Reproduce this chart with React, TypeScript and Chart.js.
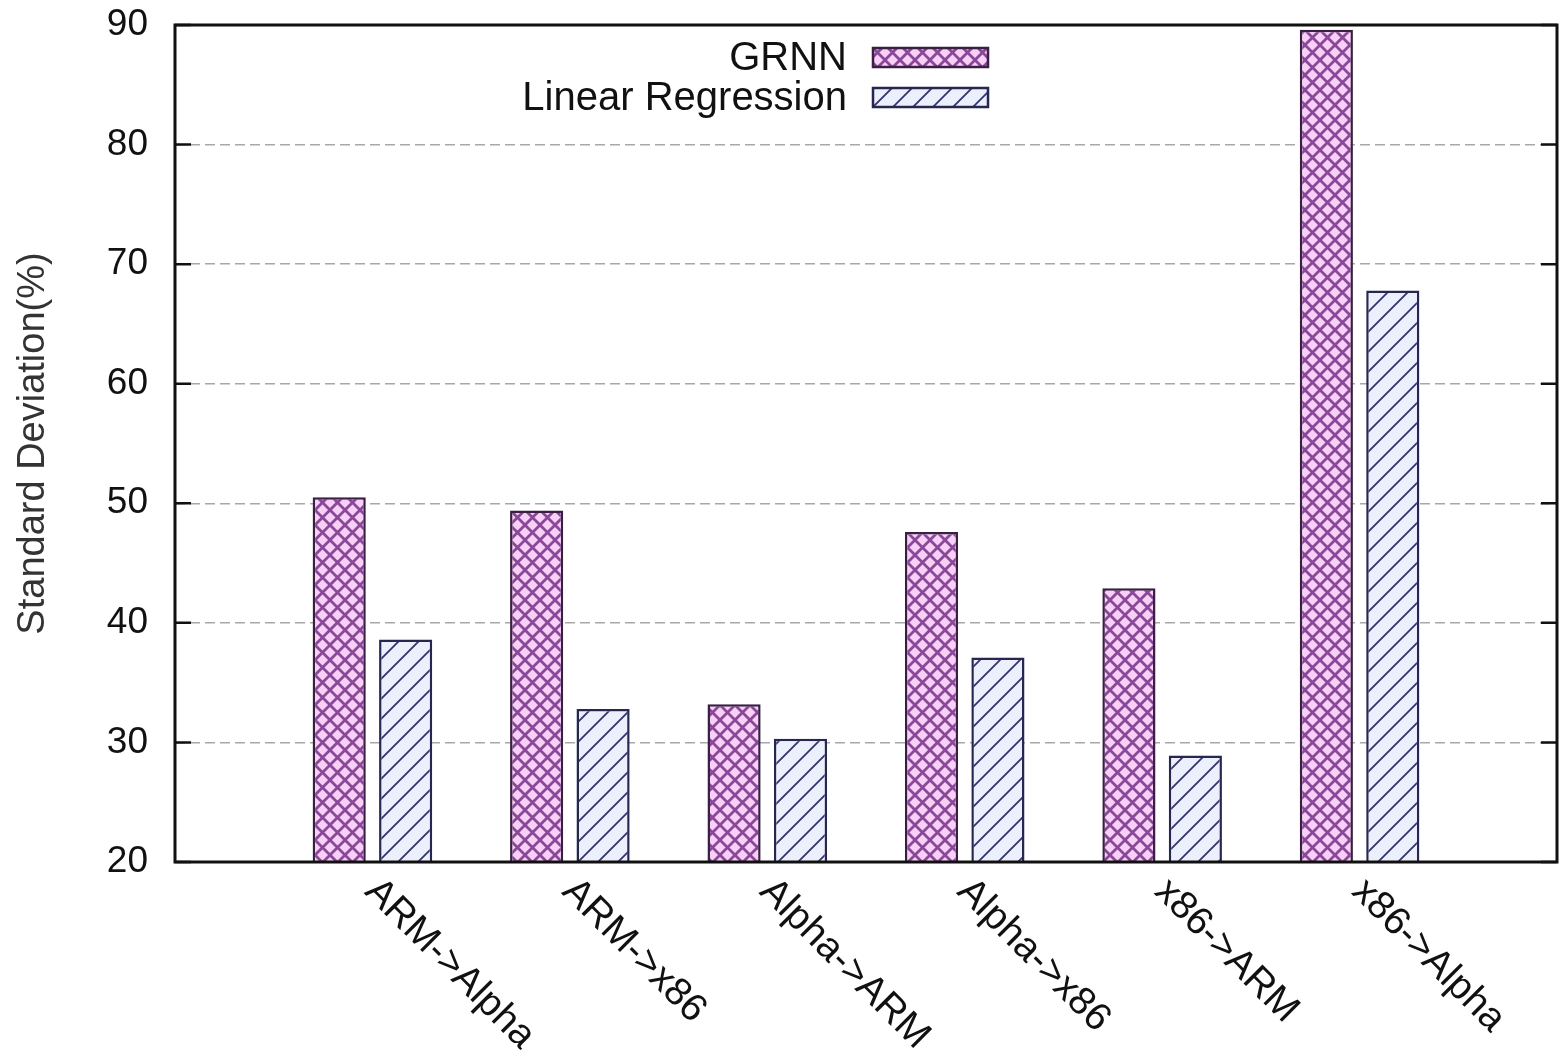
import { useEffect, useRef } from 'react';
import { Chart, registerables } from 'chart.js';

Chart.register(...registerables);

// Prediction error spread per cross-ISA mapping
const categories = ['ARM->Alpha', 'ARM->x86', 'Alpha->ARM', 'Alpha->x86', 'x86->ARM', 'x86->Alpha'];
const grnnValues = [50.5, 49.4, 33.2, 47.6, 42.9, 89.6];
const linearRegressionValues = [38.6, 32.8, 30.3, 37.1, 28.9, 67.8];
const seriesNames = ['GRNN', 'Linear Regression'];
const yTickValues = [20, 30, 40, 50, 60, 70, 80, 90];
const yAxisTitle = 'Standard Deviation(%)';

const FONT = '"Liberation Sans", Arial, Helvetica, sans-serif';
const WIDTH = 1562;
const HEIGHT = 1057;

function crossHatch(bg: string, line: string, size: number, lw: number): CanvasPattern {
  const c = document.createElement('canvas');
  c.width = size;
  c.height = size;
  const g = c.getContext('2d')!;
  g.fillStyle = bg;
  g.fillRect(0, 0, size, size);
  g.strokeStyle = line;
  g.lineWidth = lw;
  g.beginPath();
  for (const o of [-size, 0, size]) {
    g.moveTo(o - 1, -1);
    g.lineTo(o + size + 1, size + 1);
    g.moveTo(o + size + 1, -1);
    g.lineTo(o - 1, size + 1);
  }
  g.stroke();
  return g.createPattern(c, 'repeat')!;
}

function slashHatch(bg: string, line: string, size: number, lw: number): CanvasPattern {
  const c = document.createElement('canvas');
  c.width = size;
  c.height = size;
  const g = c.getContext('2d')!;
  g.fillStyle = bg;
  g.fillRect(0, 0, size, size);
  g.strokeStyle = line;
  g.lineWidth = lw;
  g.beginPath();
  for (const o of [-size, 0, size]) {
    g.moveTo(o - 1, size + 1);
    g.lineTo(o + size + 1, -1);
  }
  g.stroke();
  return g.createPattern(c, 'repeat')!;
}

export default function App() {
  const canvasRef = useRef<HTMLCanvasElement | null>(null);

  useEffect(() => {
    const canvas = canvasRef.current;
    if (!canvas) return;

    const grnnFill = crossHatch('#f7cff7', '#8a4898', 15, 2.8);
    const lrFill = slashHatch('#eceffc', '#34346e', 20, 1.8);
    const grnnBorder = '#3a1f44';
    const lrBorder = '#262650';

    // One empty slot at each end keeps the groups off the frame
    const labels = ['', ...categories, ''];
    const pad = (arr: number[]) => [null, ...arr, null];

    const overlay = {
      id: 'frameAndLabels',
      afterDraw(chart: any) {
        const { ctx, chartArea } = chart;
        const x = chart.scales.x;
        const y = chart.scales.y;
        ctx.save();

        // inward tick marks on both sides
        ctx.strokeStyle = '#111';
        ctx.lineWidth = 2.5;
        ctx.beginPath();
        for (const v of yTickValues) {
          const py = y.getPixelForValue(v);
          ctx.moveTo(chartArea.left, py);
          ctx.lineTo(chartArea.left + 16, py);
          ctx.moveTo(chartArea.right, py);
          ctx.lineTo(chartArea.right - 16, py);
        }
        ctx.stroke();

        // frame
        ctx.lineWidth = 3;
        ctx.strokeStyle = '#111';
        ctx.strokeRect(chartArea.left, chartArea.top, chartArea.right - chartArea.left, chartArea.bottom - chartArea.top);

        // slanted category labels
        ctx.fillStyle = '#111';
        ctx.font = `39px ${FONT}`;
        ctx.textAlign = 'left';
        ctx.textBaseline = 'alphabetic';
        categories.forEach((name, i) => {
          const px = x.getPixelForValue(i + 1);
          ctx.save();
          ctx.translate(px - 9, chartArea.bottom + 31);
          ctx.rotate(Math.PI / 4);
          ctx.fillText(name, 0, 0);
          ctx.restore();
        });

        // legend
        const fills = [grnnFill, lrFill];
        const borders = [grnnBorder, lrBorder];
        const rows = [58, 98];
        ctx.font = `40px ${FONT}`;
        ctx.textAlign = 'right';
        ctx.textBaseline = 'middle';
        seriesNames.forEach((name, i) => {
          ctx.fillStyle = '#111';
          ctx.fillText(name, 847, rows[i] + 1);
          ctx.fillStyle = fills[i];
          ctx.fillRect(873, rows[i] - 10, 115, 19);
          ctx.lineWidth = 2.5;
          ctx.strokeStyle = borders[i];
          ctx.strokeRect(873, rows[i] - 10, 115, 19);
        });

        ctx.restore();
      },
    };

    const chart = new Chart(canvas, {
      type: 'bar',
      data: {
        labels,
        datasets: [
          {
            label: seriesNames[0],
            data: pad(grnnValues) as any,
            backgroundColor: grnnFill as any,
            borderColor: grnnBorder,
            borderWidth: 2.5,
            borderSkipped: 'start',
          },
          {
            label: seriesNames[1],
            data: pad(linearRegressionValues) as any,
            backgroundColor: lrFill as any,
            borderColor: lrBorder,
            borderWidth: 2.5,
            borderSkipped: 'start',
          },
        ],
      },
      options: {
        responsive: false,
        animation: false,
        devicePixelRatio: 1,
        categoryPercentage: 0.673,
        barPercentage: 0.8,
        layout: { padding: { top: 25, right: 5, left: 0, bottom: 0 } },
        plugins: {
          legend: { display: false },
          tooltip: { enabled: false },
        },
        scales: {
          x: {
            type: 'category',
            offset: false,
            grid: { display: false },
            border: { display: false },
            ticks: { display: false },
            afterFit(scale: any) {
              scale.height = 195;
              scale.paddingLeft = 0;
              scale.paddingRight = 0;
            },
          },
          y: {
            min: 20,
            max: 90,
            afterBuildTicks(scale: any) {
              scale.ticks = yTickValues.map((v) => ({ value: v }));
            },
            grid: {
              color: '#a8a8a8',
              lineWidth: 1.5,
              drawTicks: false,
            },
            border: { display: false, dash: [10, 5] },
            ticks: {
              color: '#111',
              font: { family: FONT, size: 37 },
              padding: 27,
            },
            title: {
              display: true,
              text: yAxisTitle,
              color: '#333',
              font: { family: FONT, size: 38 },
              padding: { top: 11, bottom: 0 },
            },
            afterFit(scale: any) {
              scale.width = 175;
              scale.paddingTop = 0;
              scale.paddingBottom = 0;
            },
          },
        },
      },
      plugins: [overlay],
    });

    return () => chart.destroy();
  }, []);

  return (
    <div style={{ position: 'fixed', left: 0, top: 0, width: WIDTH, height: HEIGHT, background: '#fff' }}>
      <canvas ref={canvasRef} width={WIDTH} height={HEIGHT} style={{ display: 'block' }} />
    </div>
  );
}
